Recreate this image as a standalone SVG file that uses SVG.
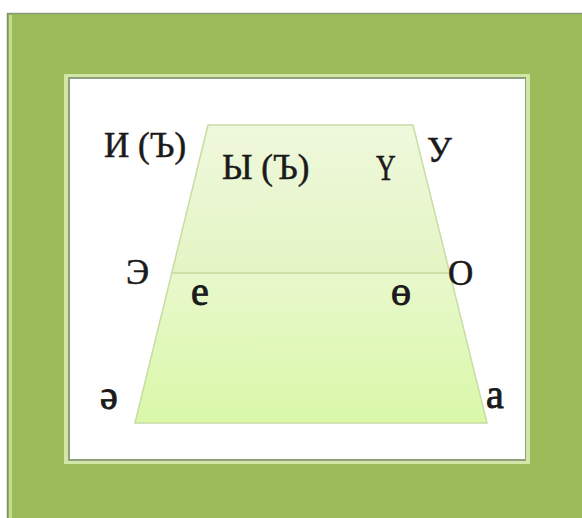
<svg xmlns="http://www.w3.org/2000/svg" width="582" height="518" viewBox="0 0 582 518">
<defs>
<linearGradient id="gTop" x1="0" y1="0" x2="0" y2="1">
<stop offset="0" stop-color="#eff8dc"/>
<stop offset="1" stop-color="#e4f5c4"/>
</linearGradient>
<linearGradient id="gBot" x1="0" y1="0" x2="0" y2="1">
<stop offset="0" stop-color="#e8f8cc"/>
<stop offset="1" stop-color="#d9f8a8"/>
</linearGradient>
<style>
.lbl{font-family:"Liberation Serif","Times New Roman",serif;font-size:35px;fill:#1a1a1a;stroke:#1a1a1a;stroke-width:0.5}
.lc{font-size:40px;stroke-width:0.9}
.edge{fill:none;stroke:#c8dca4;stroke-width:1.5}
</style>
</defs>
<rect x="0" y="0" width="582" height="518" fill="#ffffff"/>
<g id="frame">
<rect x="7" y="13" width="575" height="505" fill="#9bbb59"/>
<line x1="7" y1="13.5" x2="582" y2="13.5" stroke="#8c9c78" stroke-width="1.5"/>
<line x1="7.5" y1="13" x2="7.5" y2="518" stroke="#7f8f68" stroke-width="1.5"/>
<rect x="9" y="15" width="3" height="503" fill="#c4dc90"/>
<rect x="64" y="74" width="466" height="390" fill="#d2e6a6"/>
<rect x="68" y="77" width="458" height="384" fill="#8f9e7c"/>
<rect x="70" y="79" width="455" height="380" fill="#ffffff"/>
</g>
<g id="trapezoid">
<polygon points="208,125 413,125 450,273 172,273" fill="url(#gTop)"/>
<polygon points="172,273 450,273 487,423 135,423" fill="url(#gBot)"/>
<polygon class="edge" points="208,125 413,125 487,423 135,423"/>
</g>
<g id="connectors">
<line x1="172" y1="273" x2="450" y2="273" stroke="#c4d99c" stroke-width="1.5"/>
</g>
<g id="labels">
<text class="lbl" x="104" y="157">И (Ъ)</text>
<text class="lbl" x="222" y="179">Ы (Ъ)</text>
<text class="lbl" font-size="32" transform="translate(376,180) scale(0.78,1)">Ү</text>
<text class="lbl" x="427" y="162">У</text>
<text class="lbl" font-size="38" x="126" y="284">Э</text>
<text class="lbl" font-size="38" x="448" y="285">О</text>
<text class="lbl lc" x="191" y="305">е</text>
<text class="lbl lc" x="391" y="305">ө</text>
<text class="lbl lc" x="100" y="409">ә</text>
<text class="lbl lc" x="486" y="408">а</text>
</g>
</svg>
